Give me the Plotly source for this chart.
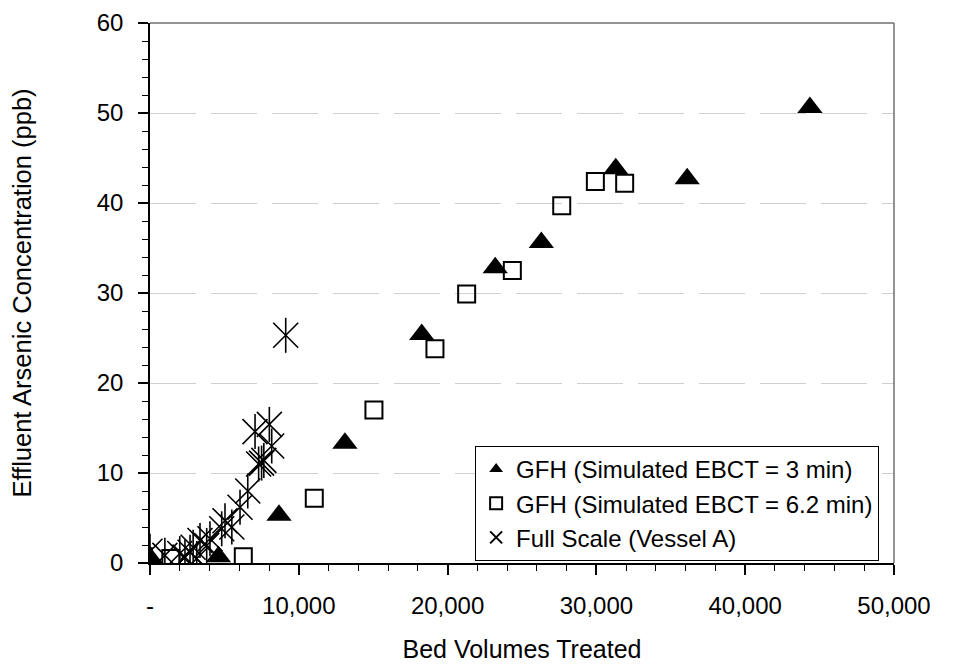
import plotly.graph_objects as go

# ---- data ----
tri_x = [44350, 36100, 31300, 26300, 23200, 18260, 13100, 8670, 4600, 0]
tri_y = [50.6, 42.7, 43.8, 35.6, 32.8, 25.4, 13.3, 5.3, 0.7, 0.6]

sq_x = [29930, 31900, 27670, 24350, 21280, 19150, 15050, 11040, 6270, 1400, -450]
sq_y = [42.4, 42.2, 39.7, 32.5, 29.9, 23.8, 17.0, 7.2, 0.7, 0.5, 0.7]

fs_x = [9120, 8020, 7060, 8180, 7500, 7300, 7650, 6570, 6050, 5040, 4820, 5500,
        4030, 3360, 3810, 2900, 2690, 2350, 3140, 1000, 0, 2000]
fs_y = [25.3, 15.4, 14.6, 13.0, 11.1, 11.0, 11.4, 8.0, 6.2, 4.7, 3.8, 4.0,
        2.7, 2.5, 1.95, 1.75, 1.2, 0.66, 0.5, 0.85, 1.3, 1.05]

names = ["GFH (Simulated EBCT = 3 min)", "GFH (Simulated EBCT = 6.2 min)",
         "Full Scale (Vessel A)"]

x_tickvals = [0, 10000, 20000, 30000, 40000, 50000]
x_ticktext = ["-", "10,000", "20,000", "30,000", "40,000", "50,000"]
y_tickvals = [0, 10, 20, 30, 40, 50, 60]

FONT = "Liberation Sans, Arial, sans-serif"

fig = go.Figure()

# squares (drawn first, below triangles)
fig.add_trace(go.Scatter(
    x=sq_x, y=sq_y, mode="markers", name=names[1], legendrank=2,
    marker=dict(symbol="square-open", size=17, color="black",
                line=dict(color="black", width=2)),
))
# full scale: vertical strokes (no legend) + X strokes (legend)
fig.add_trace(go.Scatter(
    x=fs_x, y=fs_y, mode="markers", name=names[2], showlegend=False,
    legendgroup="fs",
    marker=dict(symbol="line-ns-open", size=25, color="black",
                line=dict(color="black", width=1.6)),
))
fig.add_trace(go.Scatter(
    x=fs_x, y=fs_y, mode="markers", name=names[2], legendrank=3,
    legendgroup="fs",
    marker=dict(symbol="x-thin-open", size=25, color="black",
                line=dict(color="black", width=1.6)),
))
# triangles
fig.add_trace(go.Scatter(
    x=tri_x, y=tri_y, mode="markers", name=names[0], legendrank=1,
    marker=dict(symbol="triangle-up", size=22, color="black",
                line=dict(width=0)),
))

fig.update_layout(
    width=960, height=671,
    margin=dict(l=142, r=74, t=15, b=116),
    paper_bgcolor="white", plot_bgcolor="white",
    font=dict(family=FONT, size=24, color="black"),
    showlegend=True,
    legend=dict(
        x=0.98, xanchor="right", y=0.004, yanchor="bottom",
        bgcolor="white", bordercolor="black", borderwidth=1,
        font=dict(family=FONT, size=24, color="black"),
        itemsizing="constant", itemwidth=30, tracegroupgap=0,
    ),
    xaxis=dict(
        range=[0, 50000], showgrid=False, zeroline=False, automargin=False,
        showline=True, linecolor="black", linewidth=1.5,
        tickmode="array", tickvals=x_tickvals, ticktext=x_ticktext,
        ticks="outside", ticklen=10, tickwidth=1.5, tickcolor="black",
        ticklabelstandoff=10, ticklabeloverflow="allow",
        minor=dict(dtick=2000, tick0=0, ticks="outside", ticklen=6,
                   tickwidth=1, tickcolor="black", showgrid=False),
        title=dict(text="Bed Volumes Treated", standoff=23,
                   font=dict(size=25)),
        tickfont=dict(size=24),
    ),
    yaxis=dict(
        range=[0, 60], showgrid=True, gridcolor="#cfcfcf", gridwidth=1.3,
        griddash="46px,15px", zeroline=False, automargin=False,
        showline=True, linecolor="black", linewidth=1.5,
        tickmode="array", tickvals=y_tickvals,
        ticks="outside", ticklen=10, tickwidth=1.5, tickcolor="black",
        ticklabelstandoff=10, ticklabeloverflow="allow",
        minor=dict(dtick=2, tick0=0, ticks="outside", ticklen=6,
                   tickwidth=1, tickcolor="black", showgrid=False),
        title=dict(text="Effluent Arsenic Concentration (ppb)", standoff=59,
                   font=dict(size=25.5)),
        tickfont=dict(size=24),
    ),
    # overlay axes giving the inner half of the crossing major ticks
    xaxis2=dict(overlaying="x", anchor="y", side="bottom", range=[0, 50000],
                tickmode="array", tickvals=x_tickvals, showticklabels=False,
                ticks="inside", ticklen=10, tickwidth=1.5, tickcolor="black",
                showgrid=False, zeroline=False, showline=False,
                automargin=False),
    yaxis2=dict(overlaying="y", anchor="x", side="left", range=[0, 60],
                tickmode="array", tickvals=y_tickvals, showticklabels=False,
                ticks="inside", ticklen=10, tickwidth=1.5, tickcolor="black",
                showgrid=False, zeroline=False, showline=False,
                automargin=False),
    shapes=[
        dict(type="line", xref="paper", yref="paper", x0=0, x1=1, y0=1, y1=1,
             line=dict(color="#6f6f6f", width=1.5)),
        dict(type="line", xref="paper", yref="paper", x0=1, x1=1, y0=0, y1=1,
             line=dict(color="#6f6f6f", width=1.5)),
    ],
)

fig.write_html("out.html")
